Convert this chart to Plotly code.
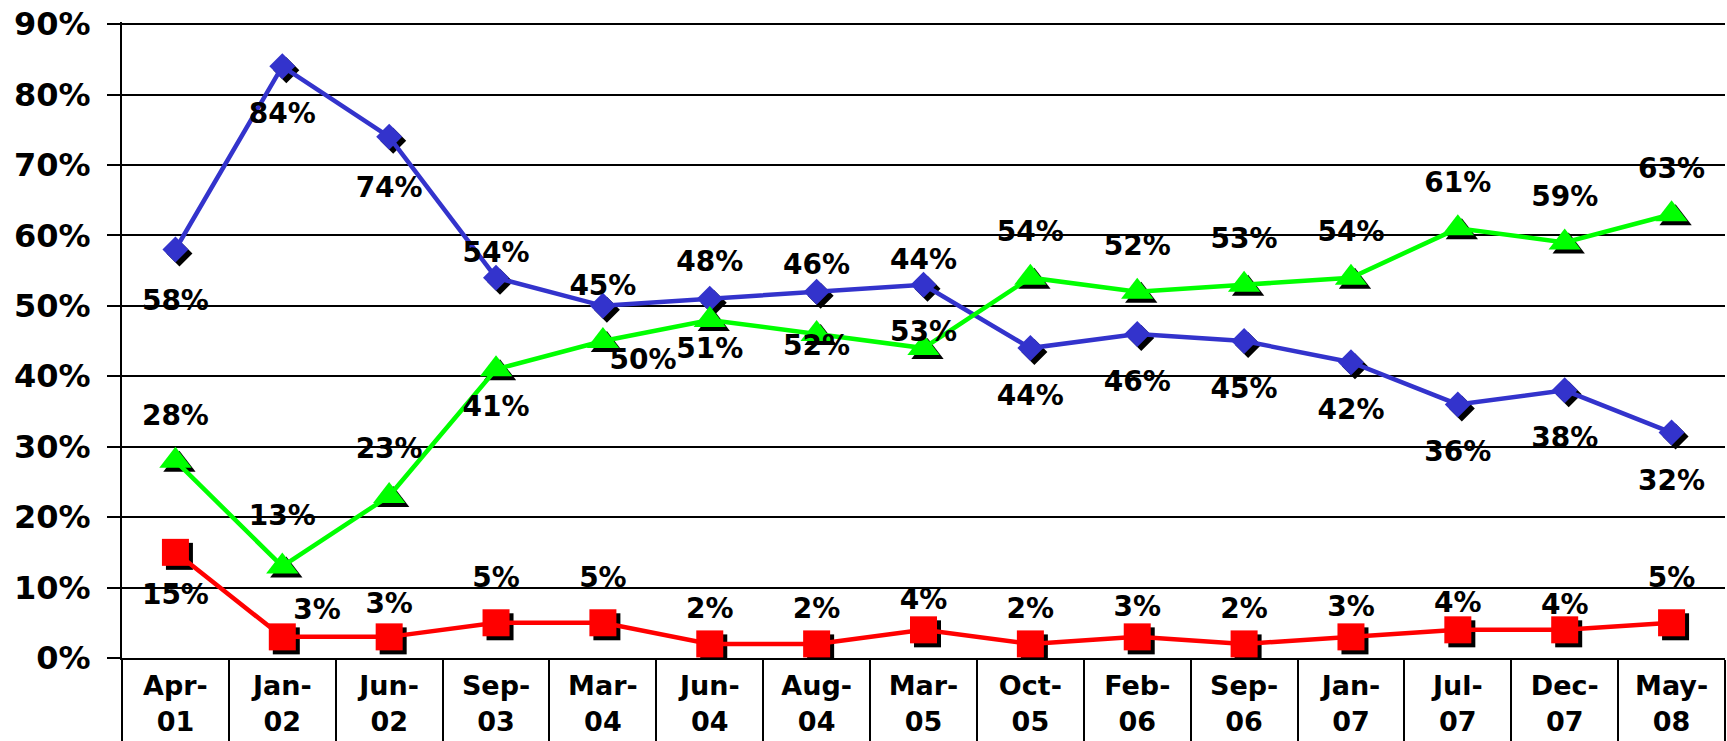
import plotly.graph_objects as go

# survey dates (x categories)
cats = ["Apr-01", "Jan-02", "Jun-02", "Sep-03", "Mar-04", "Jun-04", "Aug-04", "Mar-05",
        "Oct-05", "Feb-06", "Sep-06", "Jan-07", "Jul-07", "Dec-07", "May-08"]

# series values in percent
blue = [58, 84, 74, 54, 50, 51, 52, 53, 44, 46, 45, 42, 36, 38, 32]
green = [28, 13, 23, 41, 45, 48, 46, 44, 54, 52, 53, 54, 61, 59, 63]
red = [15, 3, 3, 5, 5, 2, 2, 4, 2, 3, 2, 3, 4, 4, 5]

# data label texts as printed on the chart (some are swapped in the original)
blue_labels = [58, 84, 74, 54, 45, 48, 46, 44, 44, 46, 45, 42, 36, 38, 32]
green_labels = [28, 13, 23, 41, 50, 51, 52, 53, 54, 52, 53, 54, 61, 59, 63]
red_labels = [15, 3, 3, 5, 5, 2, 2, 4, 2, 3, 2, 3, 4, 4, 5]

y_ticks = list(range(0, 100, 10))

# page geometry
W, H = 1727, 741
L, R, T, B = 122, 2, 22, 83
plot_w = W - L - R
plot_h = H - T - B
y_top = 90.3
x_range = [-0.5, len(cats) - 0.5]

# marker drop shadow offset in px -> axis units
shadow_px = 4
sdx = shadow_px * len(cats) / plot_w
sdy = shadow_px * y_top / plot_h

FONT = "DejaVu Sans"

# label placement (style only): textposition + invisible marker size sets the gap
blue_pos = ["bottom center"] * 3 + ["top center"] * 5 + ["bottom center"] * 7
blue_gap = [61, 56, 61, 13, 4, 31, 15, 12, 56, 56, 56, 56, 56, 56, 56]
green_pos = ["top center"] * 3 + ["bottom center", "bottom right", "bottom center",
                                  "bottom center", "top center"] + ["top center"] * 7
green_gap = [45, 53, 48, 39, 9, 26, 0, 0, 46, 46, 46, 46, 46, 46, 46]
red_pos = ["bottom center", "top right"] + ["top center"] * 13
red_gap = [47, 16, 26, 45, 45, 28, 28, 20, 28, 21, 28, 20, 16, 12, 45]

series = [
    dict(y=blue, lab=blue_labels, color="#3333CC", symbol="diamond", size=20, pos=blue_pos, gap=blue_gap),
    dict(y=red, lab=red_labels, color="#FF0000", symbol="square", size=27, pos=red_pos, gap=red_gap),
    dict(y=green, lab=green_labels, color="#00FF00", symbol="triangle-up", size=28, pos=green_pos, gap=green_gap),
]

fig = go.Figure()

# base subplot: only registers categories, carries axes and grid
fig.add_trace(go.Scatter(x=cats, y=blue, mode="none", hoverinfo="skip", showlegend=False))

# shadows on offset subplot
for s in series:
    fig.add_trace(go.Scatter(x=cats, y=s["y"], mode="markers", xaxis="x2", yaxis="y2",
                             marker=dict(symbol=s["symbol"], size=s["size"], color="black",
                                         line=dict(width=0)),
                             hoverinfo="skip", showlegend=False))

# main series
for s in series:
    fig.add_trace(go.Scatter(x=cats, y=s["y"], mode="lines+markers", xaxis="x3", yaxis="y3",
                             line=dict(color=s["color"], width=4.5),
                             marker=dict(symbol=s["symbol"], size=s["size"], color=s["color"],
                                         line=dict(width=0)),
                             cliponaxis=False, showlegend=False))

# data labels
for s in series:
    fig.add_trace(go.Scatter(x=cats, y=s["y"], mode="markers+text", xaxis="x3", yaxis="y3",
                             text=[f"{v}%" for v in s["lab"]], textposition=s["pos"],
                             textfont=dict(family=FONT, size=28, color="black", weight="bold"),
                             marker=dict(size=s["gap"], color="rgba(0,0,0,0)", line=dict(width=0)),
                             cliponaxis=False, hoverinfo="skip", showlegend=False))

hidden = dict(visible=False, showgrid=False, zeroline=False, fixedrange=True)

fig.update_layout(
    width=W, height=H,
    margin=dict(l=L, r=R, t=T, b=B),
    paper_bgcolor="white",
    plot_bgcolor="rgba(0,0,0,0)",
    showlegend=False,
    xaxis=dict(
        domain=[0, 1], anchor="y", type="category", range=x_range,
        tickmode="array", tickvals=cats, ticktext=[c.replace("-", "-<br>") for c in cats],
        tickson="boundaries", ticks="outside", ticklen=95, tickwidth=2, tickcolor="black",
        showline=True, linecolor="black", linewidth=2, showgrid=False, zeroline=False,
        tickfont=dict(family=FONT, size=27, color="black", weight="bold"),
        ticklabelstandoff=3, automargin=False,
    ),
    yaxis=dict(
        domain=[0, 1], anchor="x", range=[0, y_top],
        tickmode="array", tickvals=y_ticks, ticktext=[f"{v}%" for v in y_ticks],
        ticks="outside", ticklen=13, tickwidth=2, tickcolor="black",
        showline=True, linecolor="black", linewidth=2,
        showgrid=True, gridcolor="black", gridwidth=2, zeroline=False,
        tickfont=dict(family=FONT, size=32, color="black", weight="bold"),
        ticklabelstandoff=10, automargin=False,
    ),
    xaxis2=dict(anchor="y2", type="category", range=[x_range[0] - sdx, x_range[1] - sdx], **hidden),
    yaxis2=dict(anchor="x2", range=[sdy, y_top + sdy], **hidden),
    xaxis3=dict(anchor="y3", type="category", range=x_range, **hidden),
    yaxis3=dict(anchor="x3", range=[0, y_top], **hidden),
)

fig.write_html("out.html", config={"displayModeBar": False},
               post_script="document.body.style.margin='0';document.body.style.overflow='hidden';")
